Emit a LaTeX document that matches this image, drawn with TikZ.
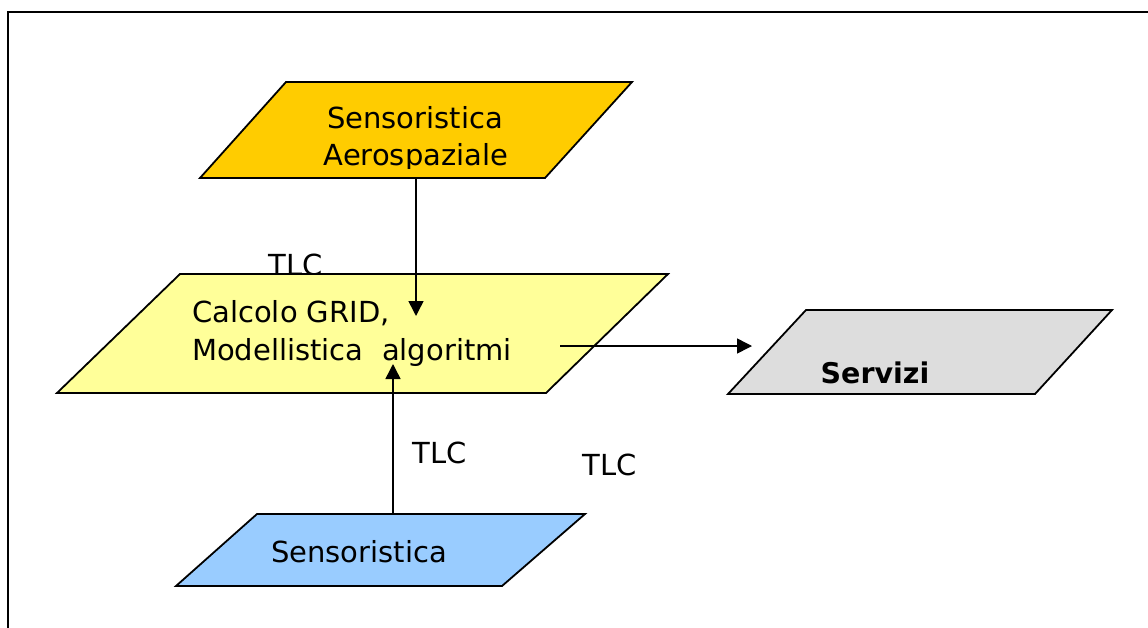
\documentclass[tikz,border=0pt]{standalone}
\usepackage{fontspec}
\setmainfont{DejaVu Sans}
\usetikzlibrary{arrows.meta}
\definecolor{aerofill}{HTML}{FFCC00}
\definecolor{calcfill}{HTML}{FFFF99}
\definecolor{sensfill}{HTML}{99CCFF}
\definecolor{servfill}{HTML}{DDDDDD}
\begin{document}
\begin{tikzpicture}[x=1pt,y=-1pt,
  shapeline/.style={draw=black,line width=1.8pt,line join=miter},
  conn/.style={draw=black,line width=1.5pt,-{Triangle[length=15pt,width=15pt]}},
  lbl/.style={font=\fontsize{29}{33}\selectfont,inner sep=0pt,anchor=base},
  lblw/.style={lbl,anchor=base west},
  boldlbl/.style={lbl,font=\fontsize{28.5}{33}\selectfont\bfseries}]
\useasboundingbox (0,0) rectangle (1148,627);
\draw[line width=2.5pt] (8,12) rectangle (1175,660);

% top parallelogram
\filldraw[shapeline,fill=aerofill] (286,82) -- (632,82) -- (545,178) -- (200,178) -- cycle;
\node[lbl] (aero1) at (415,128) {Sensoristica};
\begin{scope}
  \clip (150,100) rectangle (700,168);
  \node[lbl] (aero2) at (416,165) {Aerospaziale};
\end{scope}

% TLC label partly hidden by the middle shape
\node[lbl] (tlc1) at (296,275) {TLC};

% middle parallelogram
\filldraw[shapeline,fill=calcfill] (180,274) -- (668,274) -- (546,393) -- (57,393) -- cycle;
\node[lblw] (calc1) at (192,322) {Calcolo GRID,};
\node[lblw] (calc2) at (192,360) {Modellistica\ \ algoritmi};

% right parallelogram
\filldraw[shapeline,fill=servfill] (806,310) -- (1112,310) -- (1035,394) -- (728,394) -- cycle;
\node[boldlbl] (serv) at (875,383) {Servizi};

% bottom parallelogram
\filldraw[shapeline,fill=sensfill] (257,514) -- (585,514) -- (502,586) -- (176,586) -- cycle;
\node[lbl] (sens) at (359,562) {Sensoristica};

% other labels
\node[lbl] (tlc2) at (440,463) {TLC};
\node[lbl] (tlc3) at (610,475) {TLC};

% connector end points
\coordinate (aeroOut) at (416,178);
\coordinate (calcIn) at (416,316);
\coordinate (sensOut) at (393,514);
\coordinate (calcIn2) at (393,364);
\coordinate (calcOut) at (560,346);
\coordinate (servIn) at (752,346);

\draw[conn] (aeroOut) -- (calcIn);
\draw[conn] (sensOut) -- (calcIn2);
\draw[conn] (calcOut) -- (servIn);
\end{tikzpicture}
\end{document}
